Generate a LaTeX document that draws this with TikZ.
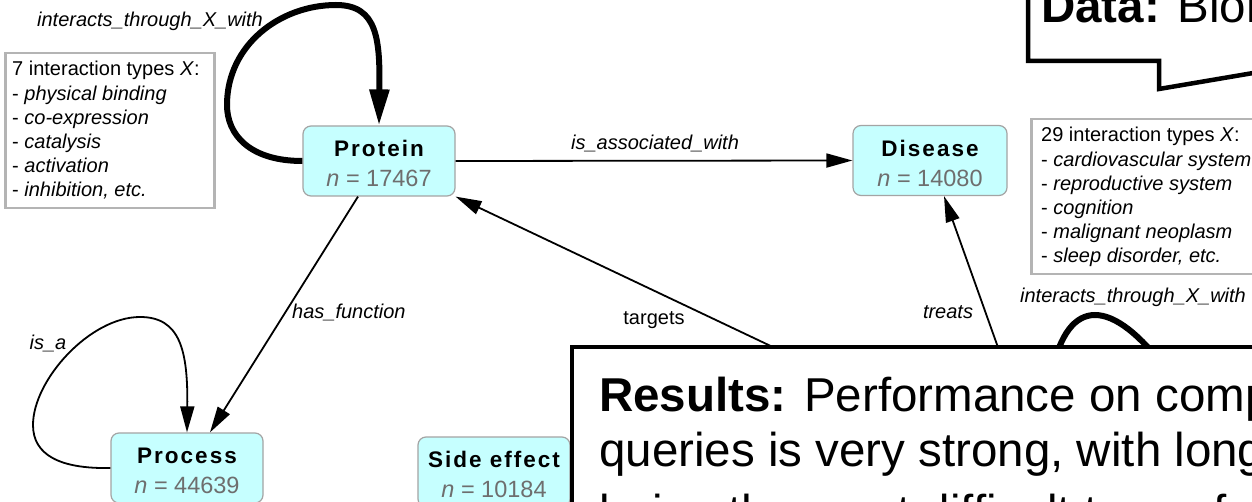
\documentclass[tikz,border=0pt]{standalone}
\usepackage{fontspec}
\setmainfont{Liberation Sans}
\newfontfamily\namefont{Liberation Sans}[LetterSpace=9]
\usetikzlibrary{arrows.meta}
\definecolor{nodefill}{HTML}{C6FFFF}
\definecolor{nodeline}{HTML}{A4A4A4}
\definecolor{boxline}{HTML}{B4B4B4}
\definecolor{ngrey}{HTML}{6E6E6E}
\newcommand\entlabel[2]{\rule{0pt}{22pt}{\namefont\bfseries\fontsize{22.5}{30}\selectfont #1}\\{\color{ngrey}\textit{n} = #2}}
\begin{document}
\begin{tikzpicture}[x=1pt,y=-1pt,
  entity/.style={draw=nodeline, fill=nodefill, rounded corners=8pt, line width=1.2pt,
    minimum width=152pt, minimum height=70pt, inner sep=0pt, align=center,
    font=\fontsize{23.5}{30}\selectfont},
  infobox/.style={draw=boxline, line width=2.5pt, inner sep=0pt, anchor=north west},
  infotext/.style={anchor=base west, inner sep=0pt, font=\fontsize{20}{24}\selectfont},
  lbl/.style={anchor=base, inner sep=0pt, font=\fontsize{20}{24}\selectfont},
  thinedge/.style={line width=1.8pt, -{Triangle[length=26pt,width=14pt]}},
  thickedge/.style={line width=6pt},
  thickarrow/.style={line width=6pt, -{Triangle[length=36pt,width=19pt]}},
  callout/.style={line width=4.5pt, line join=miter},
  bigtext/.style={anchor=base west, inner sep=0pt, font=\fontsize{47.5}{55}\selectfont}]
\useasboundingbox (0,0) rectangle (1252,502);
\clip (0,0) rectangle (1252,502);
\fill[white] (0,0) rectangle (1252,502);

% hidden end points (under the Results box)
\coordinate (drugA) at (815,367);
\coordinate (drugB) at (1005,367);
\coordinate (drugL) at (1052,372);
\coordinate (drugR) at (1168,372);

% entities
\node[entity] (prot) at (379,161) {\entlabel{Protein}{17467}};
\node[entity, minimum width=154pt] (dis) at (930,160.5) {\entlabel{Disease}{14080}};
\node[entity] (proc) at (187,468) {\entlabel{Process}{44639}};
\node[entity] (side) at (494,472) {\entlabel{Side effect}{10184}};

% edges
\draw[thickarrow] (prot.west) .. controls (250,161) and (227,135) .. (227,105)
  .. controls (227,45) and (280,5) .. (336,5)
  .. controls (378,5) and (380,40) .. (prot.north);
\draw[thinedge] (prot.east) -- (dis.west);
\draw[thinedge] ([xshift=-21pt]prot.south) -- ([xshift=23pt]proc.north);
\draw[thinedge] (proc.west) .. controls (60,469) and (33,455) .. (33,425)
  .. controls (33,380) and (90,317) .. (140,317)
  .. controls (180,317) and (188,350) .. (proc.north);
\draw[thinedge] (drugA) -- (prot.south east);
\draw[thinedge] (drugB) -- ([xshift=14pt]dis.south);
\draw[thickedge] (drugL) .. controls (1068,296) and (1112,296) .. (drugR);

% edge labels
\node[lbl] (l1) at (150,27) {\textit{interacts\_through\_X\_with}};
\node[lbl] (l2) at (655,150) {\textit{is\_associated\_with}};
\node[lbl, anchor=base west] (l3) at (292,319) {\textit{has\_function}};
\node[lbl] (l4) at (48,349) {\textit{is\_a}};
\node[lbl] (l5) at (654,325) {targets};
\node[lbl] (l6) at (948,319) {\textit{treats}};
\node[lbl] (l7) at (1133,303) {\textit{interacts\_through\_X\_with}};

% info boxes
\node[infobox, minimum width=209pt, minimum height=155pt] (boxL) at (4,52) {};
\foreach \t [count=\i] in {{7 interaction types \textit{X}:},
  {- \textit{physical binding}}, {- \textit{co-expression}}, {- \textit{catalysis}},
  {- \textit{activation}}, {- \textit{inhibition, etc.}}}
  \node[infotext] (tl\i) at (12,{76+24.2*(\i-1)}) {\t};
\node[infobox, minimum width=240pt, minimum height=155pt] (boxR) at (1030,118) {};
\foreach \t [count=\i] in {{29 interaction types \textit{X}:},
  {- \textit{cardiovascular system}}, {- \textit{reproductive system}}, {- \textit{cognition}},
  {- \textit{malignant neoplasm}}, {- \textit{sleep disorder, etc.}}}
  \node[infotext] (tr\i) at (1041,{142+24.2*(\i-1)}) {\t};

% Results callout
\draw[callout, fill=white] (572,347) rectangle (1275,540);
\node[bigtext] (res1) at (599,411) {\textbf{Results:} Performance on comp};
\node[bigtext] (res2) at (599,466) {queries is very strong, with long};
\node[bigtext] (res3) at (599,528) {being the most difficult type of};

% Data callout
\draw[callout] (1028,-10) -- (1028,61) -- (1159,61) -- (1159,89) -- (1265,71);
\node[bigtext] (data) at (1041,23) {\textbf{Data:} Biom};
\end{tikzpicture}
\end{document}
